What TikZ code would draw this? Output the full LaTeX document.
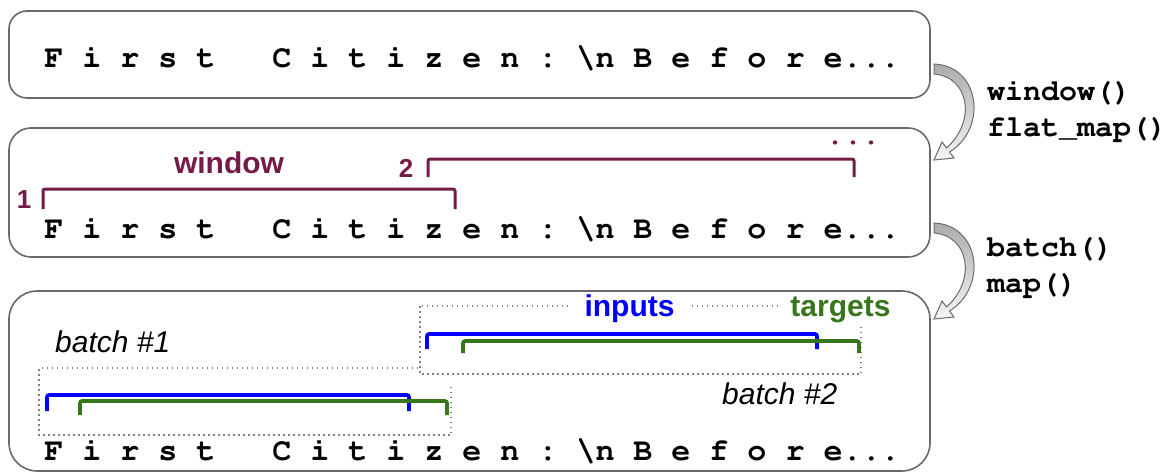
\documentclass[tikz,border=0pt]{standalone}
\usepackage[T1]{fontenc}
\usepackage{fontspec}
\setmainfont{Liberation Sans}
\newcommand\courierbf{\fontencoding{T1}\fontfamily{pcr}\fontseries{b}\fontshape{n}}
\definecolor{winred}{HTML}{741B47}
\definecolor{inblue}{HTML}{0000FF}
\definecolor{tggreen}{HTML}{38761D}
\definecolor{boxgray}{RGB}{105,105,105}
\usetikzlibrary{positioning}

\tikzset{
  rowbox/.style={draw=boxgray, line width=1.6pt, minimum width=921pt, inner sep=0pt},
  chr/.style={font=\courierbf\fontsize{31.7}{36}\selectfont, inner sep=0pt, anchor=base},
  oplabel/.style={font=\courierbf\fontsize{30}{34}\selectfont, inner sep=0pt, anchor=base west},
  tag/.style={font=\bfseries\fontsize{30}{34}\selectfont, inner sep=0pt, anchor=base},
  batchtag/.style={font=\itshape\fontsize{30}{34}\selectfont, inner sep=0pt, anchor=base west},
  winbr/.style={winred, line width=3pt, rounded corners=2pt},
  inbr/.style={inblue, line width=3.6pt, rounded corners=2pt},
  tgbr/.style={tggreen, line width=3.6pt, rounded corners=2pt},
  batchbox/.style={gray, line width=1.5pt, dash pattern=on 1.5pt off 3.5pt},
  flowarrow/.style={draw=gray!85!black, line width=1pt, top color=gray!65, bottom color=gray!8}
}

\begin{document}
\begin{tikzpicture}[x=1pt, y=-1pt]
  \useasboundingbox (0,0) rectangle (1175,476);

  % Three rows
  \node[rowbox, rounded corners=18pt, minimum height=87pt] (row1) at (469.5,54.5) {};
  \node[rowbox, rounded corners=22pt, minimum height=129pt] (row2) at (469.5,192.5) {};
  \node[rowbox, rounded corners=28pt, minimum height=180pt] (row3) at (469.5,381) {};

  % Characters of the text (one column = 19pt)
  \foreach \r/\yb in {1/68, 2/238, 3/460} {
    \foreach \u/\ch [count=\k] in {0/F,2/i,4/r,6/s,8/t,12/C,14/i,16/t,18/i,20/z,22/e,24/n,26/:,
                                   28.5/\textbackslash n,31/B,33/e,35/f,37/o,39/r,41/e}
      \node[chr] (c\r-\k) at (54+19*\u, \yb) {\ch};
    \node[chr, anchor=base west] (dots\r) at (c\r-20.base east) {...};
  }

  % Curved arrows between rows
  \foreach \ay in {69, 228}
    \path[flowarrow, shift={(934,\ay)}]
      (0,-5) .. controls (46,-3) and (54,59) .. (15.5,83) -- (20,89) -- (0,91)
      -- (8,73) -- (12.5,79) .. controls (42,53) and (36,8) .. (0,5) -- cycle;
  \node[oplabel] (op1) at (987,101) {window()};
  \node[oplabel] (op2) at (987,137) {flat\_map()};
  \node[oplabel] (op3) at (987,256) {batch()};
  \node[oplabel] (op4) at (987,292) {map()};

  % Windows
  \draw[winbr] (43,209) |- (455,189) -- (455,209);
  \draw[winbr] (428,177) |- (854,159) -- (854,177);
  \node[tag, winred] (wlbl) at (229,173) {window};
  \node[tag, winred, font=\bfseries\fontsize{26}{30}\selectfont] (one) at (24,208) {1};
  \node[tag, winred, font=\bfseries\fontsize{26}{30}\selectfont] (two) at (406,177) {2};
  \node[chr, winred, font=\courierbf\fontsize{30}{32}\selectfont] (more) at (853,145) {...};

  % Batches
  \draw[batchbox] (418,368) -- (39,368) -- (39,435) -- (451,435) -- (451,385);
  \draw[batchbox] (420,306) rectangle (861,374);
  \node[tag, inblue, fill=white, inner xsep=13pt, inner ysep=2pt] (inlbl) at (629.5,316) {inputs};
  \node[tag, tggreen, fill=white, inner xsep=9pt, inner ysep=2pt] (tglbl) at (840.5,316) {targets};
  \node[batchtag] (b1) at (55,352) {batch \#1};
  \node[batchtag] (b2) at (722,404) {batch \#2};
  \draw[inbr] (47,411) |- (409,395) -- (409,411);
  \draw[tgbr] (80,415) |- (447,401) -- (447,415);
  \draw[inbr] (427,349) |- (817,334) -- (817,349);
  \draw[tgbr] (463,353) |- (859,341) -- (859,353);
\end{tikzpicture}
\end{document}
